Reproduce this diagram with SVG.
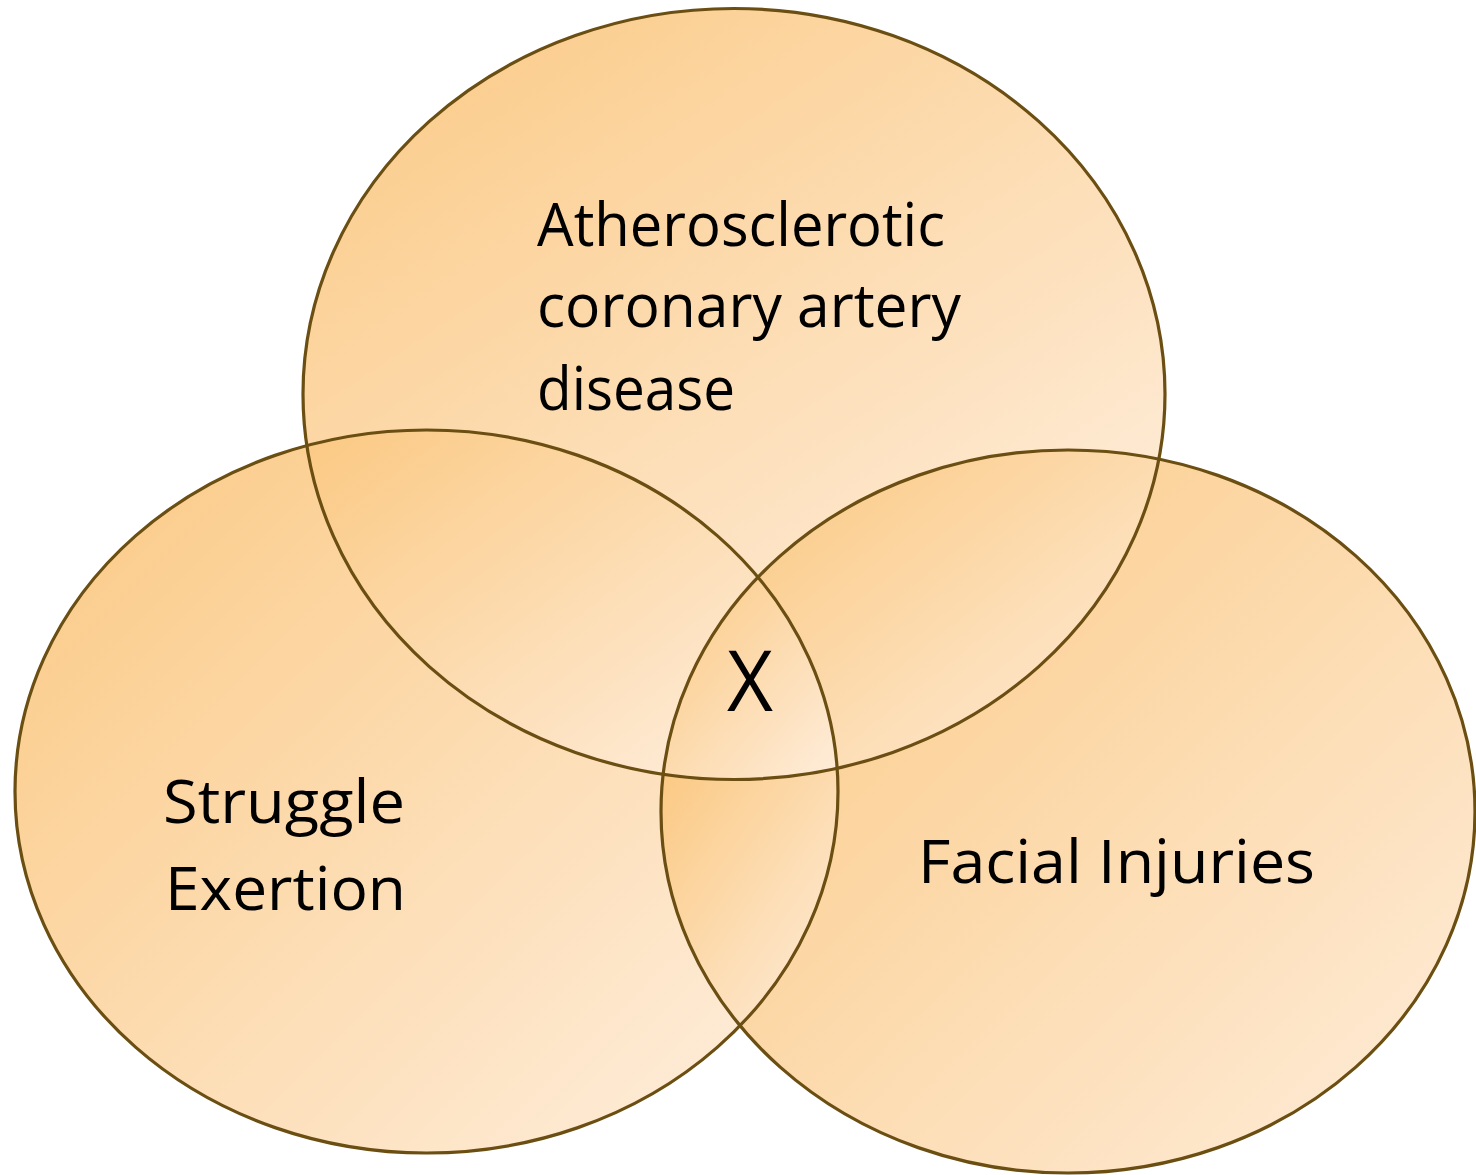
<svg xmlns="http://www.w3.org/2000/svg" width="1476" height="1175" viewBox="0 0 1476 1175">
<defs>
<linearGradient id="g" x1="0" y1="0" x2="1" y2="1">
<stop offset="0" stop-color="#FBC983"/>
<stop offset="1" stop-color="#FEEDDB"/>
</linearGradient>
<clipPath id="cTop"><ellipse cx="734" cy="394" rx="431" ry="385.5"/></clipPath>
<clipPath id="cLeft"><ellipse cx="426.5" cy="791.5" rx="411.5" ry="361.5"/></clipPath>
<clipPath id="cRight"><ellipse cx="1068" cy="811.5" rx="407" ry="361.5"/></clipPath>
<style>
.edge{fill:none;stroke:#6B4E12;stroke-width:3.2}
.t{font-family:"Open Sans","Liberation Sans",sans-serif;font-size:60px;fill:#000}
</style>
</defs>
<rect width="1476" height="1175" fill="#fff"/>
<g id="regions">
<rect x="303" y="8" width="862" height="572" fill="url(#g)" clip-path="url(#cTop)"/>
<rect x="15" y="445" width="726" height="708" fill="url(#g)" clip-path="url(#cLeft)"/>
<rect x="740" y="459" width="736" height="715" fill="url(#g)" clip-path="url(#cRight)"/>
<g clip-path="url(#cTop)"><rect x="305" y="430" width="457" height="345" fill="url(#g)" clip-path="url(#cLeft)"/></g>
<g clip-path="url(#cTop)"><rect x="762" y="450" width="401" height="318" fill="url(#g)" clip-path="url(#cRight)"/></g>
<g clip-path="url(#cLeft)"><rect x="661" y="768" width="177" height="257" fill="url(#g)" clip-path="url(#cRight)"/></g>
<g clip-path="url(#cTop)"><g clip-path="url(#cLeft)"><rect x="661" y="578" width="177" height="202" fill="url(#g)" clip-path="url(#cRight)"/></g></g>
</g>
<g id="node-top">
<ellipse class="edge" cx="734" cy="394" rx="431" ry="385.5"/>
<text class="t" x="537" y="246" textLength="408" lengthAdjust="spacingAndGlyphs">Atherosclerotic</text>
<text class="t" x="537" y="327" textLength="424" lengthAdjust="spacingAndGlyphs">coronary artery</text>
<text class="t" x="537" y="410" textLength="198" lengthAdjust="spacingAndGlyphs">disease</text>
</g>
<g id="node-left">
<ellipse class="edge" cx="426.5" cy="791.5" rx="411.5" ry="361.5"/>
<text class="t" x="163" y="823" textLength="242" lengthAdjust="spacingAndGlyphs">Struggle</text>
<text class="t" x="165" y="910" textLength="241" lengthAdjust="spacingAndGlyphs">Exertion</text>
</g>
<g id="node-right">
<ellipse class="edge" cx="1068" cy="811.5" rx="407" ry="361.5"/>
<text class="t" x="918" y="883" textLength="397" lengthAdjust="spacingAndGlyphs">Facial Injuries</text>
</g>
<g id="node-center">
<text class="t" x="727" y="711" style="font-size:84px" textLength="46" lengthAdjust="spacingAndGlyphs">X</text>
</g>
<g id="connectors"></g>
</svg>
